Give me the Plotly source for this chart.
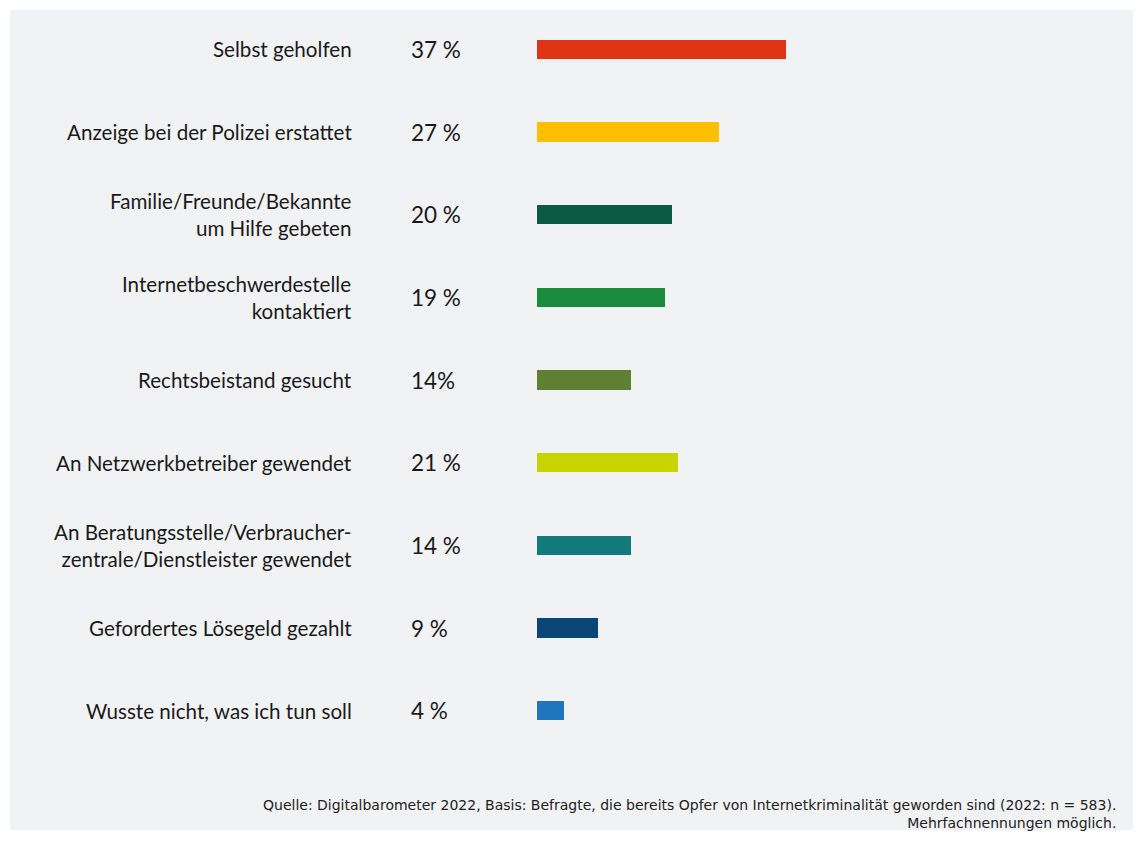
import plotly.graph_objects as go

categories = [
    "Selbst geholfen",
    "Anzeige bei der Polizei erstattet",
    "Familie/Freunde/Bekannte<br>um Hilfe gebeten",
    "Internetbeschwerdestelle<br>kontaktiert",
    "Rechtsbeistand gesucht",
    "An Netzwerkbetreiber gewendet",
    "An Beratungsstelle/Verbraucher-<br>zentrale/Dienstleister gewendet",
    "Gefordertes Lösegeld gezahlt",
    "Wusste nicht, was ich tun soll",
]
values = [37, 27, 20, 19, 14, 21, 14, 9, 4]
value_labels = ["37 %", "27 %", "20 %", "19 %", "14%", "21 %", "14 %", "9 %", "4 %"]
colors = ["#e03515", "#fdbf00", "#0b5a41", "#1a8a3c", "#5f7f32",
          "#c8d400", "#127a7a", "#0a4577", "#1f75be"]

footnote = ("Quelle: Digitalbarometer 2022, Basis: Befragte, die bereits Opfer von "
            "Internetkriminalität geworden sind (2022: n = 583).<br>Mehrfachnennungen möglich.")

ids = list(range(len(categories)))

W, H = 1133, 833
L, R, T, B = 529, 41, 0, 89
PW, PH = W - L - R, H - T - B

fig = go.Figure()
fig.add_trace(go.Bar(
    x=values, y=ids, orientation="h",
    marker=dict(color=colors, line=dict(width=0)),
    width=0.23, hoverinfo="skip",
))

annotations = []
for i, (cat, lab) in enumerate(zip(categories, value_labels)):
    annotations.append(dict(
        x=0, y=i, xref="paper", yref="y", text=cat, showarrow=False,
        xanchor="right", yanchor="middle", align="right", xshift=-183,
        font=dict(family="Lato", size=20.6, color="#1a1a1a"),
    ))
    annotations.append(dict(
        x=0, y=i, xref="paper", yref="y", text=lab, showarrow=False,
        xanchor="left", yanchor="middle", align="left", xshift=-128,
        font=dict(family="Lato", size=22.5, color="#1a1a1a"),
    ))
annotations.append(dict(
    x=(1110 - L) / PW, y=-(787 - T - PH) / PH if False else -(787 - PH) / PH,
    xref="paper", yref="paper", text=footnote, showarrow=False,
    xanchor="right", yanchor="top", align="right",
    font=dict(family="DejaVu Sans", size=14, color="#222222"),
))

fig.update_layout(
    width=W, height=H,
    margin=dict(l=L, r=R, t=T, b=B),
    paper_bgcolor="#ffffff",
    plot_bgcolor="rgba(0,0,0,0)",
    showlegend=False,
    bargap=0,
    xaxis=dict(range=[0, 83.6], visible=False, fixedrange=True),
    yaxis=dict(range=[8.5, -0.5], visible=False, fixedrange=True),
    annotations=annotations,
    shapes=[dict(type="rect", xref="paper", yref="paper", layer="below",
                 x0=(2 - L) / PW, x1=(W - L) / PW,
                 y0=-(822 - PH) / PH, y1=1 - 2 / PH,
                 fillcolor="#f1f2f4", line=dict(width=0))],
)

fig.write_html("out.html")
